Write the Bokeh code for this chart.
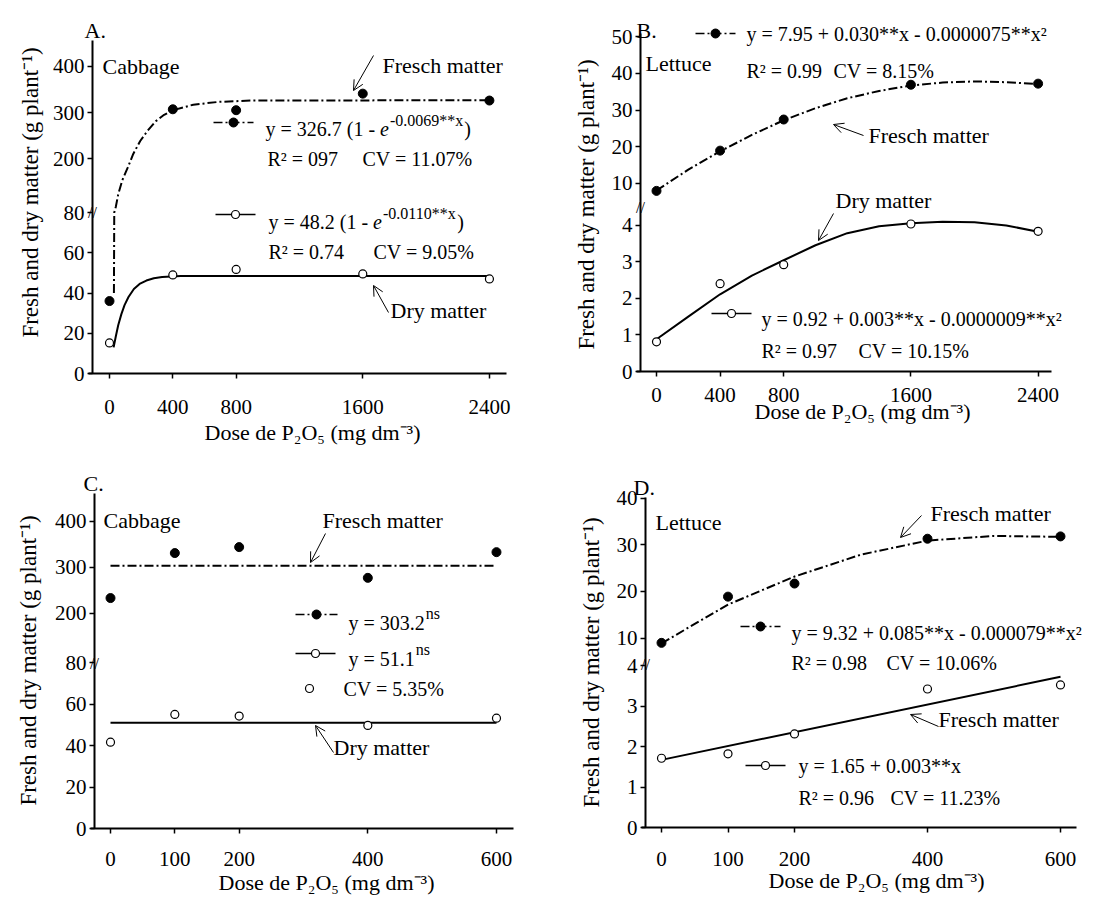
import math
from bokeh.plotting import figure
from bokeh.layouts import column, row
from bokeh.models import Label, Arrow, OpenHead, FixedTicker
from bokeh.embed import file_html
from bokeh.resources import INLINE

FONT = "Liberation Serif"

# ---------------- data ----------------
dose_AB = [0, 400, 800, 1600, 2400]
dose_CD = [0, 100, 200, 400, 600]

fresh_A = [36, 307, 305, 341, 326]
dry_A = [15.2, 49.0, 51.7, 49.5, 47.0]
fit_fresh_A_x = [28, 30, 40, 55, 80, 115, 150, 194, 240, 292, 345, 401, 529, 687, 900, 2400]
fit_fresh_A_y = [40, 80, 95, 122, 152, 180, 210, 238, 260, 281, 295, 305, 317, 323, 326, 326.7]
fit_dry_A_x = [26, 40, 55, 75, 95, 120, 154, 190, 233, 280, 332, 450, 2400]
fit_dry_A_y = [13.0, 18.5, 24.0, 29.5, 34.0, 38.0, 42.0, 44.5, 46.2, 47.3, 47.9, 48.4, 48.5]

fresh_B = [7.9, 18.9, 27.4, 36.9, 37.2]
dry_B = [0.81, 2.40, 2.92, 4.03, 3.83]
fit_B_x = [0, 200, 400, 600, 800, 1000, 1200, 1400, 1600, 1800, 2000, 2200, 2400]
fit_fresh_B_y = [8.0, 13.7, 18.7, 23.2, 27.2, 30.5, 33.2, 35.2, 36.7, 37.5, 37.8, 37.6, 37.1]
fit_dry_B_y = [0.88, 1.50, 2.11, 2.62, 3.04, 3.45, 3.78, 3.97, 4.05, 4.09, 4.08, 3.99, 3.82]

fresh_C = [233, 331, 344, 277, 333]
dry_C = [41.7, 55.1, 54.3, 49.8, 53.3]
fit_C_x = [0, 600]
fit_fresh_C_y = [303.2, 303.2]
fit_dry_C_y = [51.1, 51.1]

fresh_D = [9.0, 18.9, 21.7, 31.3, 31.8]
dry_D = [1.71, 1.82, 2.31, 3.42, 3.52]
fit_fresh_D_x = [0, 100, 200, 300, 400, 500, 600]
fit_fresh_D_y = [8.9, 17.2, 23.2, 27.9, 30.9, 31.9, 31.7]
fit_dry_D_x = [0, 600]
fit_dry_D_y = [1.67, 3.72]

yticks_A = [0, 20, 40, 60, 80, 200, 300, 400]
yticks_B = [0, 1, 2, 3, 4, 10, 20, 30, 40, 50]
yticks_C = [0, 20, 40, 60, 80, 200, 300, 400]
yticks_D = [0, 1, 2, 3, 4, 10, 20, 30, 40]

YTITLE = "Fresh and dry matter (g plant\u207b\u00b9)"
XTITLE = "Dose de P\u2082O\u2085 (mg dm\u207b\u00b3)"

FW, FH = 559, 450

# ---------------- panel geometry (reference pixels) ----------------
GEO = {
    "A": dict(px0=0, py0=0, x0=109, xs=0.1583, left=92, right=506, xl=88, top=40, y0=373, ys=2.0125,
              split=80, vref=200, pref=158, pu=0.46, xt=(312, 432), yt=(30, 192)),
    "B": dict(px0=559, py0=0, x0=656, xs=0.159, left=640, right=1051, xl=636, top=33, y0=371, ys=36.6,
              split=6, vref=10, pref=182.7, pu=3.66, xt=(862, 411), yt=(586, 204)),
    "C": dict(px0=0, py0=450, x0=110, xs=0.6433, left=94, right=513, xl=90, top=493, y0=828, ys=2.07,
              split=80, vref=200, pref=612.7, pu=0.459, xt=(326, 882), yt=(28, 660)),
    "D": dict(px0=559, py0=450, x0=661, xs=0.665, left=645, right=1076, xl=641, top=497, y0=827, ys=40.5,
              split=6, vref=10, pref=637.7, pu=4.67, xt=(876, 880), yt=(591, 662)),
}

W = {' ': 250, '(': 333, ')': 333, '*': 500, '+': 564, '-': 333, '.': 250, '=': 564, '%': 833,
     'y': 500, 'x': 500, 'e': 444, 'R': 667, 'C': 667, 'V': 722, '\u00b2': 300, 'n': 500, 's': 389}


def tw(s, size):
    return sum(W.get(c, 500) for c in s) / 1000.0 * size


def tmap(g, v):
    if v <= g["split"]:
        return v
    return (g["y0"] - (g["pref"] - (v - g["vref"]) * g["pu"])) / g["ys"]


class Panel:
    def __init__(self, key, xticks, yticks, xstand):
        g = GEO[key]
        self.g = g
        p = figure(frame_width=FW, frame_height=FH,
                   x_range=(self.X(g["px0"]), self.X(g["px0"] + FW)),
                   y_range=(self.Y(g["py0"] + FH), self.Y(g["py0"])),
                   output_backend="svg", toolbar_location=None,
                   min_border_left=0, min_border_right=0,
                   min_border_top=0, min_border_bottom=0,
                   background_fill_color="white", border_fill_color="white")
        p.outline_line_color = None
        p.xgrid.grid_line_color = None
        p.ygrid.grid_line_color = None
        p.xaxis.ticker = FixedTicker(ticks=xticks)
        p.xaxis.fixed_location = 0
        p.xaxis.bounds = (self.X(g["xl"]), self.X(g["right"]))
        ty = [round(float(tmap(g, v)), 4) for v in yticks]
        p.yaxis.ticker = FixedTicker(ticks=ty)
        p.yaxis.major_label_overrides = {t: str(v) for t, v in zip(ty, yticks)}
        p.yaxis.fixed_location = self.X(g["left"])
        p.yaxis.bounds = (0, self.Y(g["top"]))
        for ax in (p.xaxis[0], p.yaxis[0]):
            ax.axis_line_width = 2
            ax.axis_line_color = "black"
            ax.major_tick_line_width = 1.5
            ax.major_tick_line_color = "black"
            ax.major_tick_out = 5
            ax.major_tick_in = 0
            ax.minor_tick_line_color = None
            ax.major_label_text_font = FONT
            ax.major_label_text_font_size = "21px"
            ax.major_label_text_color = "black"
        p.xaxis.major_label_standoff = xstand
        p.yaxis.major_label_standoff = 3
        self.p = p
        # axis titles
        self.lab(g["xt"][0], g["xt"][1], XTITLE, 22, align="center")
        self.p.add_layout(Label(x=self.X(g["yt"][0]), y=self.Y(g["yt"][1]), text=YTITLE,
                                angle=math.pi / 2, text_font=FONT, text_font_size="23px",
                                text_align="center", text_baseline="middle",
                                text_color="black"))

    def X(self, px):
        return (px - self.g["x0"]) / self.g["xs"]

    def Y(self, py):
        return (self.g["y0"] - py) / self.g["ys"]

    def T(self, vals):
        return [tmap(self.g, v) for v in vals]

    def fresh(self, x, y, fx, fy):
        self.p.line(fx, self.T(fy), line_color="black", line_width=2, line_dash="9 3 2 3")
        self.p.scatter(x, self.T(y), marker="circle", size=9, fill_color="black", line_color="black")

    def dry(self, x, y, fx, fy):
        self.p.line(fx, self.T(fy), line_color="black", line_width=2)
        self.p.scatter(x, self.T(y), marker="circle", size=8, fill_color="white",
                       line_color="black", line_width=1.2)

    def lab(self, px, py, text, size=22, align="left", style="normal"):
        self.p.add_layout(Label(x=self.X(px), y=self.Y(py), text=text, text_font=FONT,
                                text_font_size=f"{size}px", text_align=align,
                                text_baseline="middle", text_font_style=style,
                                text_color="black"))

    def arrow(self, x1, y1, x2, y2):
        self.p.add_layout(Arrow(x_start=self.X(x1), y_start=self.Y(y1),
                                x_end=self.X(x2), y_end=self.Y(y2),
                                line_width=1, line_color="black",
                                end=OpenHead(size=10, line_width=1, line_color="black")))

    def key(self, x1, x2, y, filled):
        yy = self.Y(y)
        if filled:
            self.p.line([self.X(x1), self.X(x2)], [yy, yy], line_color="black", line_width=1.5,
                        line_dash="9 3 2 3")
            self.p.scatter([self.X((x1 + x2) / 2)], [yy], marker="circle", size=9,
                           fill_color="black", line_color="black")
        else:
            self.p.line([self.X(x1), self.X(x2)], [yy, yy], line_color="black", line_width=1.5)
            self.p.scatter([self.X((x1 + x2) / 2)], [yy], marker="circle", size=8,
                           fill_color="white", line_color="black", line_width=1.2)

    def expeq(self, px, py, base, sup):
        self.lab(px, py, base, 20)
        ex = px + tw(base, 20)
        self.lab(ex, py, "e", 20, style="italic")
        sx = ex + tw("e", 20) + 1
        self.lab(sx, py - 8, sup, 16)
        self.lab(sx + tw(sup, 16) + 1, py, ")", 20)

    def nseq(self, px, py, base):
        self.lab(px, py, base, 20)
        self.lab(px + tw(base, 20) + 1, py - 9, "ns", 16)

    def brk(self, py):
        self.lab(self.g["left"], py, "//", 16, align="center")


# ---------------- Panel A ----------------
A = Panel("A", dose_AB, yticks_A, 21)
A.fresh(dose_AB, fresh_A, fit_fresh_A_x, fit_fresh_A_y)
A.dry(dose_AB, dry_A, fit_dry_A_x, fit_dry_A_y)
A.lab(84, 30, "A.")
A.lab(102, 66, "Cabbage")
A.lab(382, 65, "Fresch matter")
A.arrow(373, 55, 353, 90)
A.key(213, 253, 122, True)
A.expeq(265, 128, "y = 326.7 (1 - ", "-0.0069**x")
A.lab(267, 158, "R\u00b2 = 097", 20)
A.lab(362, 158, "CV = 11.07%", 20)
A.key(215, 255, 214, False)
A.expeq(268, 221, "y = 48.2 (1 - ", "-0.0110**x")
A.lab(268, 251, "R\u00b2 = 0.74", 20)
A.lab(373, 251, "CV = 9.05%", 20)
A.lab(390, 310, "Dry matter")
A.arrow(388, 312, 373, 285)
A.brk(212)

# ---------------- Panel B ----------------
B = Panel("B", dose_AB, yticks_B, 11)
B.fresh(dose_AB, fresh_B, fit_B_x, fit_fresh_B_y)
B.dry(dose_AB, dry_B, fit_B_x, fit_dry_B_y)
B.lab(636, 30, "B.")
B.lab(645, 63, "Lettuce")
B.key(695, 735, 33, True)
B.lab(746, 33, "y = 7.95 + 0.030**x - 0.0000075**x\u00b2", 20)
B.lab(746, 70, "R\u00b2 = 0.99", 20)
B.lab(833, 70, "CV = 8.15%", 20)
B.lab(868, 135, "Fresch matter")
B.arrow(863, 135, 833, 124)
B.lab(835, 200, "Dry matter")
B.arrow(833, 213, 818, 240)
B.key(711, 751, 313, False)
B.lab(761, 318, "y = 0.92 + 0.003**x - 0.0000009**x\u00b2", 20)
B.lab(761, 350, "R\u00b2 = 0.97", 20)
B.lab(858, 350, "CV = 10.15%", 20)
B.brk(207)

# ---------------- Panel C ----------------
C = Panel("C", dose_CD, yticks_C, 18)
C.fresh(dose_CD, fresh_C, fit_C_x, fit_fresh_C_y)
C.dry(dose_CD, dry_C, fit_C_x, fit_dry_C_y)
C.lab(83, 483, "C.")
C.lab(103, 520, "Cabbage")
C.lab(322, 520, "Fresch matter")
C.arrow(325, 533, 310, 562)
C.key(295, 337, 614, True)
C.nseq(348, 622, "y = 303.2")
C.key(295, 335, 653, False)
C.nseq(348, 658, "y = 51.1")
C.p.scatter([C.X(309)], [C.Y(688)], marker="circle", size=8, fill_color="white",
            line_color="black", line_width=1.2)
C.lab(343, 688, "CV = 5.35%", 20)
C.lab(333, 747, "Dry matter")
C.arrow(333, 752, 315, 725)
C.brk(663)

# ---------------- Panel D ----------------
D = Panel("D", dose_CD, yticks_D, 19)
D.fresh(dose_CD, fresh_D, fit_fresh_D_x, fit_fresh_D_y)
D.dry(dose_CD, dry_D, fit_dry_D_x, fit_dry_D_y)
D.lab(633, 487, "D.")
D.lab(655, 522, "Lettuce")
D.lab(930, 513, "Fresch matter")
D.arrow(921, 515, 900, 537)
D.key(740, 780, 626, True)
D.lab(791, 632, "y = 9.32 + 0.085**x - 0.000079**x\u00b2", 20)
D.lab(791, 662, "R\u00b2 = 0.98", 20)
D.lab(886, 662, "CV = 10.06%", 20)
D.lab(938, 719, "Fresch matter")
D.arrow(938, 726, 910, 714)
D.key(745, 785, 765, False)
D.lab(798, 765, "y = 1.65 + 0.003**x", 20)
D.lab(798, 797, "R\u00b2 = 0.96", 20)
D.lab(890, 797, "CV = 11.23%", 20)
D.brk(664)

layout = column(row(A.p, B.p), row(C.p, D.p))
open("out.html", "w").write(file_html(layout, INLINE))
